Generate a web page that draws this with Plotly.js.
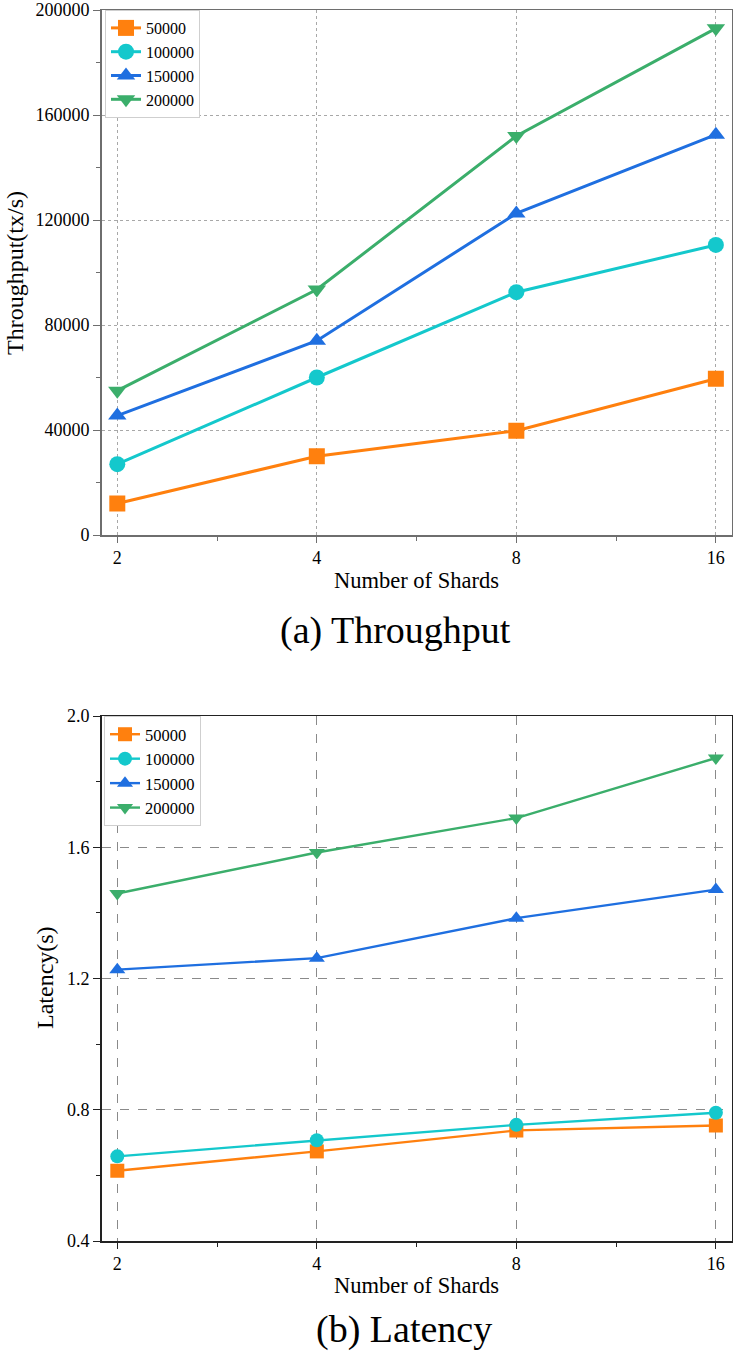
<!DOCTYPE html>
<html>
<head>
<meta charset="utf-8">
<script src="https://cdn.plot.ly/plotly-3.0.1.min.js"></script>
<style>
html,body{margin:0;padding:0;background:#fff;}
#chart{width:736px;height:1354px;}
</style>
</head>
<body>
<div id="chart"></div>
<script>
// ---- data ----
const shards = [2, 4, 8, 16];
const seriesNames = ['50000', '100000', '150000', '200000'];
const throughput50k  = [12000, 30000, 39700, 59500];
const throughput100k = [27000, 60000, 92500, 110500];
const throughput150k = [45500, 74000, 122500, 152500];
const throughput200k = [55000, 93500, 152000, 193000];
const latency50k  = [0.614, 0.673, 0.737, 0.752];
const latency100k = [0.658, 0.707, 0.754, 0.791];
const latency150k = [1.227, 1.262, 1.384, 1.471];
const latency200k = [1.459, 1.584, 1.689, 1.872];
const xTickVals = [2, 4, 8, 16];
const xTickText = ['2', '4', '8', '16'];
const yTopTicks = [0, 40000, 80000, 120000, 160000, 200000];
const yTopText = ['0', '40000', '80000', '120000', '160000', '200000'];
const yBotTicks = [0.4, 0.8, 1.2, 1.6, 2.0];
const yBotText = ['0.4', '0.8', '1.2', '1.6', '2.0'];

// ---- styles ----
const colors = ['#FF800E', '#14C8CC', '#1F6FE0', '#3BAE6B'];
const symbols = ['square', 'circle', 'triangle-up', 'triangle-down'];
const FONT = 'Liberation Serif';

const topData = [throughput50k, throughput100k, throughput150k, throughput200k];
const botData = [latency50k, latency100k, latency150k, latency200k];

const traces = [];
topData.forEach((ys, i) => {
  traces.push({
    x: shards, y: ys, name: seriesNames[i], type: 'scatter', mode: 'lines+markers',
    xaxis: 'x', yaxis: 'y', legend: 'legend',
    line: {color: colors[i], width: 3},
    marker: {symbol: symbols[i], size: 16, color: colors[i]}
  });
});
botData.forEach((ys, i) => {
  traces.push({
    x: shards, y: ys, name: seriesNames[i], type: 'scatter', mode: 'lines+markers',
    xaxis: 'x2', yaxis: 'y2', legend: 'legend2',
    line: {color: colors[i], width: 2.4},
    marker: {symbol: symbols[i], size: 14, color: colors[i]}
  });
});

const W = 736, H = 1354;
const xDom = [101.7 / W, 731.5 / W];
const topDom = [1 - 535 / H, 1 - 10 / H];
const botDom = [1 - 1241 / H, 1 - 716 / H];
const xRange = [0.2775, 1.2277];
const minorX = [2 * Math.SQRT2, 4 * Math.SQRT2, 8 * Math.SQRT2];

function xAxis(anchor, dom, gridDash, gridColor, lineColor) {
  return {
    type: 'log', domain: dom, anchor: anchor, range: xRange,
    tickmode: 'array', tickvals: xTickVals, ticktext: xTickText,
    ticks: 'outside', ticklen: 6, tickwidth: 1, tickcolor: lineColor,
    showline: true, linecolor: lineColor, linewidth: 1.5, mirror: true,
    showgrid: true, gridcolor: gridColor, griddash: gridDash, gridwidth: 1,
    zeroline: false,
    minor: {tickmode: 'array', tickvals: minorX, ticks: 'outside', ticklen: 4, tickcolor: lineColor, showgrid: false},
    tickfont: {family: FONT, size: 18, color: '#000'}
  };
}

const layout = {
  width: W, height: H,
  margin: {l: 0, r: 0, t: 0, b: 0},
  paper_bgcolor: '#fff', plot_bgcolor: '#fff',
  font: {family: FONT, color: '#000'},
  showlegend: true,
  xaxis: xAxis('y', xDom, 'dot', '#a8a8a8', '#6e6e6e'),
  xaxis2: xAxis('y2', xDom, 'dash', '#8a8a8a', '#222'),
  yaxis: {
    domain: topDom, anchor: 'x', range: [0, 200000],
    tickmode: 'array', tickvals: yTopTicks, ticktext: yTopText,
    ticks: 'outside', ticklen: 7, tickwidth: 1, tickcolor: '#6e6e6e',
    showline: true, linecolor: '#6e6e6e', linewidth: 1.5, mirror: true,
    showgrid: true, gridcolor: '#a8a8a8', griddash: 'dot', gridwidth: 1,
    zeroline: false,
    minor: {dtick: 20000, ticks: 'outside', ticklen: 4, tickcolor: '#6e6e6e', showgrid: false},
    tickfont: {family: FONT, size: 18, color: '#000'}
  },
  yaxis2: {
    domain: botDom, anchor: 'x2', range: [0.4, 2.0],
    tickmode: 'array', tickvals: yBotTicks, ticktext: yBotText,
    ticks: 'outside', ticklen: 7, tickwidth: 1, tickcolor: '#222',
    showline: true, linecolor: '#222', linewidth: 1.5, mirror: true,
    showgrid: true, gridcolor: '#8a8a8a', griddash: 'dash', gridwidth: 1,
    zeroline: false,
    minor: {dtick: 0.2, ticks: 'outside', ticklen: 4, tickcolor: '#222', showgrid: false},
    tickfont: {family: FONT, size: 18, color: '#000'}
  },
  legend: {
    x: 105 / W, y: 1 - 10 / H, xanchor: 'left', yanchor: 'top',
    bgcolor: '#fff', bordercolor: '#cfcfcf', borderwidth: 1,
    font: {family: FONT, size: 16, color: '#000'},
    tracegroupgap: 0, itemwidth: 30
  },
  legend2: {
    x: 104 / W, y: 1 - 716 / H, xanchor: 'left', yanchor: 'top',
    bgcolor: '#fff', bordercolor: '#cfcfcf', borderwidth: 1,
    font: {family: FONT, size: 16.5, color: '#000'},
    tracegroupgap: 0, itemwidth: 30
  },
  annotations: [
    {text: 'Throughput(tx/s)', xref: 'paper', yref: 'paper', x: 15 / W, y: 1 - 273 / H,
     textangle: -90, showarrow: false, xanchor: 'center', yanchor: 'middle',
     font: {family: FONT, size: 24, color: '#000'}},
    {text: 'Number of Shards', xref: 'paper', yref: 'paper', x: 416.6 / W, y: 1 - 580 / H,
     showarrow: false, xanchor: 'center', yanchor: 'middle',
     font: {family: FONT, size: 22.5, color: '#000'}},
    {text: '(a) Throughput', xref: 'paper', yref: 'paper', x: 396 / W, y: 1 - 630 / H,
     showarrow: false, xanchor: 'center', yanchor: 'middle',
     font: {family: FONT, size: 38, color: '#000'}},
    {text: 'Latency(s)', xref: 'paper', yref: 'paper', x: 45 / W, y: 1 - 978 / H,
     textangle: -90, showarrow: false, xanchor: 'center', yanchor: 'middle',
     font: {family: FONT, size: 24, color: '#000'}},
    {text: 'Number of Shards', xref: 'paper', yref: 'paper', x: 416.6 / W, y: 1 - 1285 / H,
     showarrow: false, xanchor: 'center', yanchor: 'middle',
     font: {family: FONT, size: 22.5, color: '#000'}},
    {text: '(b) Latency', xref: 'paper', yref: 'paper', x: 404 / W, y: 1 - 1329 / H,
     showarrow: false, xanchor: 'center', yanchor: 'middle',
     font: {family: FONT, size: 38, color: '#000'}}
  ]
};

Plotly.newPlot('chart', traces, layout, {staticPlot: true, displayModeBar: false});
</script>
</body>
</html>
